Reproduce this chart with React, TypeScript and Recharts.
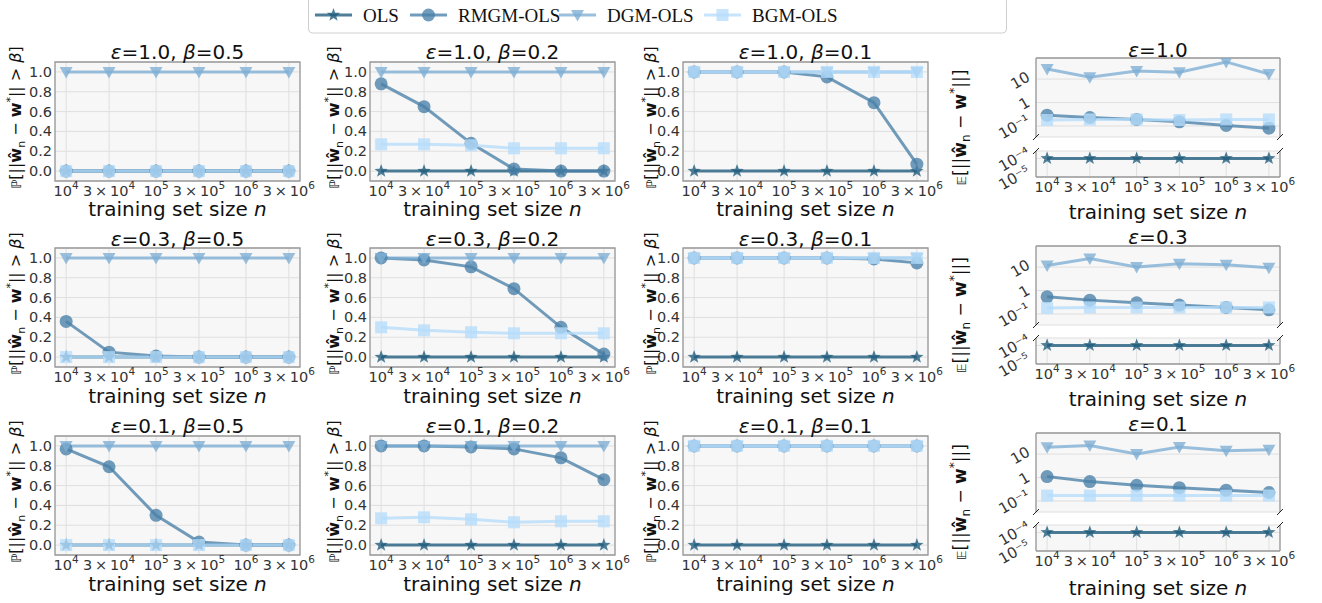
import React from "react";
import { CartesianGrid, Line, LineChart, ReferenceArea, ReferenceLine, XAxis, YAxis } from "recharts";

// training set sizes n
const trainSizes = [1e4, 3e4, 1e5, 3e5, 1e6, 3e6];
const sizeTicks = [1e4, 3e4, 1e5, 3e5, 1e6, 3e6];
const probTicks = [0, 0.2, 0.4, 0.6, 0.8, 1.0];
const normTicksTop = [0.1, 1, 10];
const normTicksBottom = [1e-5, 1e-4];

const epsLabels = ["1.0", "0.3", "0.1"];
const betaLabels = ["0.5", "0.2", "0.1"];

// P[||w_n - w*|| > beta]
const olsProb = [0, 0, 0, 0, 0, 0];
const dgmProb = [1, 1, 1, 1, 1, 1];
const zeroProb = [0, 0, 0, 0, 0, 0];
const oneProb = [1, 1, 1, 1, 1, 1];

const rmgmE10B05 = [0, 0, 0, 0, 0, 0];
const rmgmE10B02 = [0.88, 0.65, 0.28, 0.02, 0, 0];
const rmgmE10B01 = [1, 1, 1, 0.95, 0.69, 0.07];
const bgmE10B02 = [0.27, 0.27, 0.26, 0.23, 0.23, 0.23];

const rmgmE03B05 = [0.36, 0.05, 0.01, 0, 0, 0];
const rmgmE03B02 = [1, 0.98, 0.91, 0.69, 0.3, 0.03];
const rmgmE03B01 = [1, 1, 1, 1, 0.99, 0.95];
const bgmE03B02 = [0.3, 0.27, 0.25, 0.24, 0.24, 0.24];

const rmgmE01B05 = [0.97, 0.79, 0.3, 0.03, 0, 0];
const rmgmE01B02 = [1, 1, 0.99, 0.97, 0.88, 0.66];
const rmgmE01B01 = [1, 1, 1, 1, 1, 1];
const bgmE01B02 = [0.27, 0.28, 0.26, 0.23, 0.24, 0.24];

// E[||w_n - w*||]
const olsNormE10 = [1e-4, 1e-4, 1e-4, 1e-4, 1e-4, 1e-4];
const rmgmNormE10 = [0.29, 0.23, 0.19, 0.15, 0.105, 0.081];
const dgmNormE10 = [27, 12, 22, 19.5, 54, 16.5];
const bgmNormE10 = [0.18, 0.19, 0.19, 0.18, 0.19, 0.19];

const olsNormE03 = [1e-4, 1e-4, 1e-4, 1e-4, 1e-4, 1e-4];
const rmgmNormE03 = [0.54, 0.39, 0.3, 0.24, 0.19, 0.15];
const dgmNormE03 = [11.8, 23, 10, 14, 12.7, 9.4];
const bgmNormE03 = [0.18, 0.19, 0.19, 0.19, 0.19, 0.19];

const olsNormE01 = [1e-4, 1e-4, 1e-4, 1e-4, 1e-4, 1e-4];
const rmgmNormE01 = [1.1, 0.67, 0.47, 0.37, 0.29, 0.23];
const dgmNormE01 = [19.6, 23, 10, 20, 14, 15.5];
const bgmNormE01 = [0.17, 0.17, 0.17, 0.17, 0.17, 0.17];

type Series = { ols: number[]; rmgm: number[]; dgm: number[]; bgm: number[] };

const probGrid: Series[][] = [
  [
    { ols: olsProb, rmgm: rmgmE10B05, dgm: dgmProb, bgm: zeroProb },
    { ols: olsProb, rmgm: rmgmE10B02, dgm: dgmProb, bgm: bgmE10B02 },
    { ols: olsProb, rmgm: rmgmE10B01, dgm: dgmProb, bgm: oneProb },
  ],
  [
    { ols: olsProb, rmgm: rmgmE03B05, dgm: dgmProb, bgm: zeroProb },
    { ols: olsProb, rmgm: rmgmE03B02, dgm: dgmProb, bgm: bgmE03B02 },
    { ols: olsProb, rmgm: rmgmE03B01, dgm: dgmProb, bgm: oneProb },
  ],
  [
    { ols: olsProb, rmgm: rmgmE01B05, dgm: dgmProb, bgm: zeroProb },
    { ols: olsProb, rmgm: rmgmE01B02, dgm: dgmProb, bgm: bgmE01B02 },
    { ols: olsProb, rmgm: rmgmE01B01, dgm: dgmProb, bgm: oneProb },
  ],
];

const normGrid: Series[] = [
  { ols: olsNormE10, rmgm: rmgmNormE10, dgm: dgmNormE10, bgm: bgmNormE10 },
  { ols: olsNormE03, rmgm: rmgmNormE03, dgm: dgmNormE03, bgm: bgmNormE03 },
  { ols: olsNormE01, rmgm: rmgmNormE01, dgm: dgmNormE01, bgm: bgmNormE01 },
];

const toRows = (s: Series) =>
  trainSizes.map((n, i) => ({ n, ols: s.ols[i], rmgm: s.rmgm[i], dgm: s.dgm[i], bgm: s.bgm[i] }));

const SERIES = [
  { key: "ols", name: "OLS", color: "#1d5b7b", shape: "star" },
  { key: "rmgm", name: "RMGM-OLS", color: "#4a80a8", shape: "circle" },
  { key: "dgm", name: "DGM-OLS", color: "#7eaed5", shape: "tri" },
  { key: "bgm", name: "BGM-OLS", color: "#b6dcfb", shape: "square" },
];
const ALPHA = 0.78;

const FONT = "DejaVu Sans";
const TXT = "#333";
const X_DOMAIN: [number, number] = [7516, 3.99e6];
const PROB_DOMAIN: [number, number] = [-0.1, 1.1];
const NORM_TOP_DOMAIN: [number, number] = [0.0339, 79.4];
const NORM_BOT_DOMAIN: [number, number] = [1e-5, 2.51e-4];

// layout
const PROB_X = [55, 370, 683];
const PROB_W = 245;
const ROW_TOP = [62, 248, 436];
const PROB_H = 119;
const NORM_X = 1036;
const NORM_W = 244;
const NORM_TOP = [58, 246, 433];
const NORM_TOP_H = 79;
const NORM_BOT = [151, 338, 525];
const NORM_BOT_H = 26;
const Y_W = 50;
const X_H = 30;
const M_T = 10;
const M_R = 40;
const M_B_TOP = 14;

const SUP: Record<string, string> = { "-": "⁻", "0": "⁰", "1": "¹", "4": "⁴", "5": "⁵" };
const powLabel = (e: number) =>
  "10" + String(e).split("").map((ch) => SUP[ch] ?? ch).join("");

function starPoints(cx: number, cy: number, R: number, r: number) {
  const pts: string[] = [];
  for (let i = 0; i < 10; i++) {
    const rad = i % 2 === 0 ? R : r;
    const a = -Math.PI / 2 + (i * Math.PI) / 5;
    pts.push(`${cx + rad * Math.cos(a)},${cy + rad * Math.sin(a)}`);
  }
  return pts.join(" ");
}

function Marker({ shape, cx, cy, color }: { shape: string; cx: number; cy: number; color: string }) {
  const common = { fill: color, fillOpacity: ALPHA, stroke: "none" };
  if (shape === "star") return <polygon points={starPoints(cx, cy, 7, 2.9)} {...common} />;
  if (shape === "circle") return <circle cx={cx} cy={cy} r={6.5} {...common} />;
  if (shape === "tri")
    return <polygon points={`${cx - 6.5},${cy - 5} ${cx + 6.5},${cy - 5} ${cx},${cy + 6.5}`} {...common} />;
  return <rect x={cx - 6} y={cy - 6} width={12} height={12} {...common} />;
}

const makeDot = (s: (typeof SERIES)[number]) => (p: any) => {
  if (p.cx == null || p.cy == null) return <g key={`${s.key}-${p.index}`} />;
  return <Marker key={`${s.key}-${p.index}`} shape={s.shape} cx={p.cx} cy={p.cy} color={s.color} />;
};

function SizeTick(props: any) {
  const { x, y, payload } = props;
  const v = payload.value;
  const e = Math.floor(Math.log10(v) + 1e-9);
  const m = Math.round(v / 10 ** e);
  return (
    <text x={x} y={y + 15} textAnchor="middle" fontSize={14.5} fill={TXT} fontFamily={FONT}>
      {m === 1 ? "10" : `${m}\u2009×\u200910`}
      <tspan dy={-7} fontSize={10.5}>
        {e}
      </tspan>
    </text>
  );
}

function ProbTick(props: any) {
  const { x, y, payload } = props;
  return (
    <text x={x - 3} y={y + 5} textAnchor="end" fontSize={14.5} fill={TXT} fontFamily={FONT}>
      {payload.value.toFixed(1)}
    </text>
  );
}

function NormTick(props: any) {
  const { x, y, payload } = props;
  const v = Number(payload.value);
  const e = Math.round(Math.log10(v));
  const label = e === 0 ? "1" : e === 1 ? "10" : powLabel(e);
  const w = label.length * 8;
  const ax = x - 5;
  const ay = y - w * 0.25 + 5;
  return (
    <text
      x={ax}
      y={ay}
      transform={`rotate(-30 ${ax} ${ay})`}
      textAnchor="end"
      fontSize={15}
      fill={TXT}
      fontFamily={FONT}
    >
      {label}
    </text>
  );
}

function seriesLines(keys: string[]) {
  return SERIES.filter((s) => keys.includes(s.key)).map((s) => (
    <Line
      key={s.key}
      type="linear"
      dataKey={s.key}
      stroke={s.color}
      strokeOpacity={ALPHA}
      strokeWidth={3}
      dot={makeDot(s)}
      activeDot={false}
      isAnimationActive={false}
    />
  ));
}

function ProbPanel({ left, top, series }: { left: number; top: number; series: Series }) {
  return (
    <div style={{ position: "absolute", left: left - Y_W, top: top - M_T }}>
      <LineChart
        width={PROB_W + Y_W + M_R}
        height={PROB_H + M_T + X_H}
        data={toRows(series)}
        margin={{ top: M_T, right: M_R, bottom: 0, left: 0 }}
      >
        <CartesianGrid stroke="#dfdfdf" fill="#f7f7f7" />
        <XAxis
          dataKey="n"
          type="number"
          scale="log"
          domain={X_DOMAIN}
          allowDataOverflow
          ticks={sizeTicks}
          interval={0}
          tick={<SizeTick />}
          tickLine={false}
          axisLine={false}
          tickSize={0}
          tickMargin={0}
          height={X_H}
        />
        <YAxis
          type="number"
          domain={PROB_DOMAIN}
          allowDataOverflow
          ticks={probTicks}
          interval={0}
          tick={<ProbTick />}
          tickLine={false}
          axisLine={false}
          tickSize={0}
          tickMargin={0}
          width={Y_W}
        />
        <ReferenceArea
          x1={X_DOMAIN[0]}
          x2={X_DOMAIN[1]}
          y1={PROB_DOMAIN[0]}
          y2={PROB_DOMAIN[1]}
          fill="none"
          stroke="#9a9a9a"
          strokeWidth={1.3}
          ifOverflow="visible"
        />
        {seriesLines(["ols", "rmgm", "dgm", "bgm"])}
      </LineChart>
    </div>
  );
}

function NormPanel({ row, series }: { row: number; series: Series }) {
  const data = toRows(series);
  const spine = { stroke: "#9a9a9a", strokeWidth: 1.3, ifOverflow: "visible" as const };
  return (
    <>
      <div style={{ position: "absolute", left: NORM_X - Y_W, top: NORM_TOP[row] - M_T }}>
        <LineChart
          width={NORM_W + Y_W + M_R}
          height={NORM_TOP_H + M_T + M_B_TOP}
          data={data}
          margin={{ top: M_T, right: M_R, bottom: M_B_TOP, left: 0 }}
        >
          <CartesianGrid stroke="#dfdfdf" fill="#f7f7f7" />
          <XAxis
            dataKey="n"
            type="number"
            scale="log"
            domain={X_DOMAIN}
            allowDataOverflow
            ticks={sizeTicks}
            interval={0}
            tick={false}
            tickLine={false}
            axisLine={false}
            height={0}
          />
          <YAxis
            type="number"
            scale="log"
            domain={NORM_TOP_DOMAIN}
            allowDataOverflow
            ticks={normTicksTop}
            interval={0}
            minTickGap={0}
            tick={<NormTick />}
            tickLine={false}
            axisLine={false}
            tickSize={0}
            tickMargin={0}
            width={Y_W}
          />
          <ReferenceLine x={X_DOMAIN[0]} {...spine} />
          <ReferenceLine x={X_DOMAIN[1]} {...spine} />
          <ReferenceLine y={NORM_TOP_DOMAIN[1]} {...spine} />
          {seriesLines(["rmgm", "dgm", "bgm"])}
        </LineChart>
      </div>
      <div style={{ position: "absolute", left: NORM_X - Y_W, top: NORM_BOT[row] - M_T }}>
        <LineChart
          width={NORM_W + Y_W + M_R}
          height={NORM_BOT_H + M_T + X_H}
          data={data}
          margin={{ top: M_T, right: M_R, bottom: 0, left: 0 }}
        >
          <CartesianGrid stroke="#dfdfdf" fill="#f7f7f7" />
          <XAxis
            dataKey="n"
            type="number"
            scale="log"
            domain={X_DOMAIN}
            allowDataOverflow
            ticks={sizeTicks}
            interval={0}
            tick={<SizeTick />}
            tickLine={false}
            axisLine={false}
            tickSize={0}
            tickMargin={0}
            height={X_H}
          />
          <YAxis
            type="number"
            scale="log"
            domain={NORM_BOT_DOMAIN}
            allowDataOverflow
            ticks={normTicksBottom}
            interval={0}
            minTickGap={0}
            tick={<NormTick />}
            tickLine={false}
            axisLine={false}
            tickSize={0}
            tickMargin={0}
            width={Y_W}
          />
          <ReferenceLine x={X_DOMAIN[0]} {...spine} />
          <ReferenceLine x={X_DOMAIN[1]} {...spine} />
          <ReferenceLine y={NORM_BOT_DOMAIN[0]} {...spine} />
          {seriesLines(["ols"])}
        </LineChart>
      </div>
    </>
  );
}

const TITLE_BASE = [59, 245.5, 432.5];
const XLABEL_BASE = [215.5, 402.5, 590.5];
const NORM_XLABEL_BASE = [219, 405.5, 594.5];
const YLABEL_X = [21, 339, 656];

function XLabel({ cx, y }: { cx: number; y: number }) {
  return (
    <text x={cx} y={y} textAnchor="middle" fontSize={20} fill="#111" fontFamily={FONT}>
      training set size <tspan fontStyle="italic">n</tspan>
    </text>
  );
}

function ProbYLabel({ x, cy }: { x: number; cy: number }) {
  return (
    <text
      x={x}
      y={cy}
      transform={`rotate(-90 ${x} ${cy})`}
      textAnchor="middle"
      fontSize={16}
      fill="#111"
      fontFamily={FONT}
    >
      <tspan fontSize={13}>ℙ</tspan>[||<tspan fontWeight="bold">ŵ</tspan>
      <tspan fontSize={11} dy={4}>
        n
      </tspan>
      <tspan dy={-4}> − </tspan>
      <tspan fontWeight="bold">w</tspan>
      <tspan fontSize={11} dy={-7}>
        *
      </tspan>
      <tspan dy={7}>|| &gt; </tspan>
      <tspan fontStyle="italic">β</tspan>]
    </text>
  );
}

function NormYLabel({ x, cy }: { x: number; cy: number }) {
  return (
    <text
      x={x}
      y={cy}
      transform={`rotate(-90 ${x} ${cy})`}
      textAnchor="middle"
      fontSize={17}
      fill="#111"
      fontFamily={FONT}
    >
      <tspan fontSize={13}>𝔼</tspan>[||<tspan fontWeight="bold">ŵ</tspan>
      <tspan fontSize={12} dy={4}>
        n
      </tspan>
      <tspan dy={-4}> − </tspan>
      <tspan fontWeight="bold">w</tspan>
      <tspan fontSize={12} dy={-8}>
        *
      </tspan>
      <tspan dy={8}>||]</tspan>
    </text>
  );
}

const LEGEND_X = [315, 410, 559, 704];

function Overlay() {
  return (
    <svg
      width={1322}
      height={603}
      style={{ position: "absolute", left: 0, top: 0, pointerEvents: "none" }}
    >
      {/* legend */}
      <rect x={308.5} y={-3} width={698} height={36} rx={4} fill="#fff" stroke="#cfcfcf" />
      {SERIES.map((s, i) => (
        <g key={s.key}>
          <line
            x1={LEGEND_X[i]}
            x2={LEGEND_X[i] + 37}
            y1={15}
            y2={15}
            stroke={s.color}
            strokeOpacity={ALPHA}
            strokeWidth={3}
          />
          <Marker shape={s.shape} cx={LEGEND_X[i] + 18.5} cy={15} color={s.color} />
          <text x={LEGEND_X[i] + 48} y={22} fontSize={19} fill="#111" fontFamily="Liberation Serif">
            {s.name}
          </text>
        </g>
      ))}
      {epsLabels.map((eps, r) => (
        <g key={eps}>
          {betaLabels.map((beta, c) => (
            <g key={beta}>
              <text
                x={PROB_X[c] + PROB_W / 2}
                y={TITLE_BASE[r]}
                textAnchor="middle"
                fontSize={20}
                fill="#111"
                fontFamily={FONT}
              >
                <tspan fontStyle="italic">ε</tspan>={eps}, <tspan fontStyle="italic">β</tspan>={beta}
              </text>
              <XLabel cx={PROB_X[c] + PROB_W / 2} y={XLABEL_BASE[r]} />
              <ProbYLabel x={YLABEL_X[c]} cy={ROW_TOP[r] + PROB_H / 2 - 4} />
            </g>
          ))}
          <text
            x={NORM_X + NORM_W / 2}
            y={TITLE_BASE[r] - 2}
            textAnchor="middle"
            fontSize={20}
            fill="#111"
            fontFamily={FONT}
          >
            <tspan fontStyle="italic">ε</tspan>={eps}
          </text>
          <XLabel cx={NORM_X + NORM_W / 2} y={NORM_XLABEL_BASE[r]} />
          <NormYLabel x={966} cy={(NORM_TOP[r] + NORM_BOT[r] + NORM_BOT_H) / 2 + 10} />
          {/* broken axis marks */}
          {[NORM_X, NORM_X + NORM_W].map((bx) =>
            [NORM_TOP[r] + NORM_TOP_H, NORM_BOT[r]].map((by) => (
              <line
                key={`${bx}-${by}`}
                x1={bx - 3}
                y1={by + 3}
                x2={bx + 3}
                y2={by - 3}
                stroke="#222"
                strokeWidth={1}
              />
            ))
          )}
        </g>
      ))}
    </svg>
  );
}

export default function App() {
  return (
    <div
      style={{
        position: "absolute",
        left: 0,
        top: 0,
        width: 1322,
        height: 603,
        background: "#fff",
        fontFamily: FONT,
        overflow: "hidden",
      }}
    >
      {probGrid.map((row, r) =>
        row.map((series, c) => (
          <ProbPanel key={`${r}-${c}`} left={PROB_X[c]} top={ROW_TOP[r]} series={series} />
        ))
      )}
      {normGrid.map((series, r) => (
        <NormPanel key={r} row={r} series={series} />
      ))}
      <Overlay />
    </div>
  );
}
